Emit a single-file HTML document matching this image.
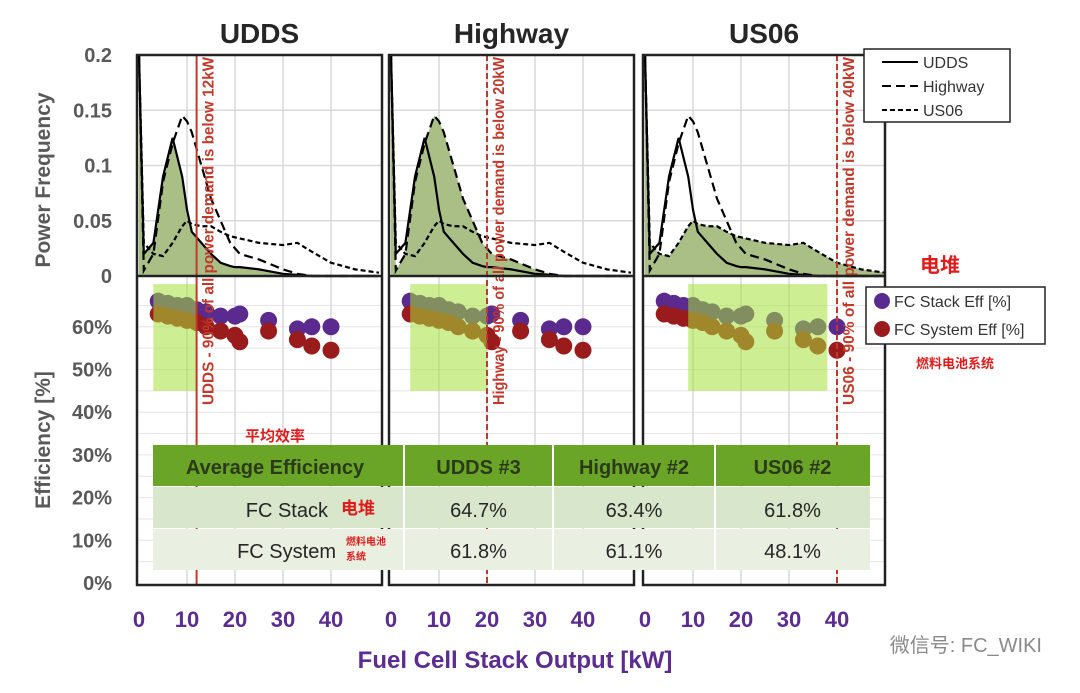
<!DOCTYPE html>
<html><head><meta charset="utf-8"><style>
html,body{margin:0;padding:0;background:#fff;}
svg{display:block;font-family:"Liberation Sans","Noto Sans CJK SC",sans-serif;}
</style></head><body>
<svg id="c" width="1080" height="693" viewBox="0 0 1080 693"></svg>
<script>
const kw = [0,1,3,5,7,9,10,11,12,13,15,17,19,20,21,25,30,33,36,40,45,50];
const freqUDDS    = [0.2,0.02,0.03,0.09,0.125,0.09,0.06,0.04,0.035,0.03,0.02,0.012,0.009,0.008,0.008,0.006,0.002,0.001,0,0,0,0];
const freqHighway = [0.2,0.005,0.02,0.085,0.12,0.145,0.14,0.13,0.115,0.1,0.07,0.05,0.03,0.025,0.02,0.015,0.006,0.002,0,0,0,0];
const freqUS06    = [0.2,0.03,0.02,0.018,0.03,0.045,0.05,0.047,0.046,0.045,0.045,0.04,0.036,0.035,0.034,0.03,0.028,0.03,0.022,0.012,0.006,0.003];
const effKw     = [4,6,8,10,12,14,17,20,21,27,33,36,40];
const stackEff  = [66,65.5,65,65,64,63.5,62.5,62.5,63,61.5,59.5,60,60];
const systemEff = [63,62.5,62,61.5,61,60,59,58,56.5,59,57,55.5,54.5];
const cycles = ['UDDS','Highway','US06'];
const limits = [12,20,40];
const hiStart = [3,4,9];
const hiEnd = [12,20,38];
const freqTicks = ['0','0.05','0.1','0.15','0.2'];
const effTicks = ['0%','10%','20%','30%','40%','50%','60%'];
const xTicks = ['0','10','20','30','40'];
const tableHead = ['Average  Efficiency','UDDS #3','Highway #2','US06 #2'];
const stackAvg = ['64.7%','63.4%','61.8%'];
const systemAvg = ['61.8%','61.1%','48.1%'];

const svg = document.getElementById('c');
const NS='http://www.w3.org/2000/svg';
function mk(tag,attrs,parent,text){const e=document.createElementNS(NS,tag);for(const k in attrs)e.setAttribute(k,attrs[k]);if(text!==undefined)e.textContent=text;(parent||svg).appendChild(e);return e;}

const panelX=[139,391,645], panelW=[243,243,240];
const topY0=276, topY1=55, botY1=585;
function xs(p,v){return panelX[p]+v*4.8;}
function fy(v){return topY0-(v/0.2)*(topY0-topY1);}
function ey(v){return 583-v*4.27;}
const series=[freqUDDS,freqHighway,freqUS06];
const dashes=['none','9,5','5,3'];

let t=mk('text',{x:50,y:180,'font-size':21,'font-weight':'bold',fill:'#595959','text-anchor':'middle',transform:'rotate(-90 50 180)'},svg,'Power Frequency');

t=mk('text',{x:50,y:440,'font-size':21,'font-weight':'bold',fill:'#595959','text-anchor':'middle',transform:'rotate(-90 50 440)'},svg,'Efficiency [%]');

freqTicks.forEach((s,i)=>{const e=mk('text',{x:112,y:fy(i*0.05)+7,'font-size':20,'font-weight':'bold',fill:'#595959','text-anchor':'end'},svg,s);});
effTicks.forEach((s,i)=>{const e=mk('text',{x:112,y:ey(i*10)+7,'font-size':20,'font-weight':'bold',fill:'#595959','text-anchor':'end'},svg,s);});
t=mk('text',{x:515,y:668,'font-size':24,'font-weight':'bold',fill:'#5b2c91','text-anchor':'middle'},svg,'Fuel Cell Stack Output [kW]');


for(let p=0;p<3;p++){
  const g=mk('g',{});
  const x0=panelX[p]-2,w=panelW[p]+2;
  mk('rect',{x:x0,y:topY1,width:w,height:botY1-topY1,fill:'#fff'},g);
  for(let v=0.05;v<0.2;v+=0.05) mk('line',{x1:x0,x2:x0+w,y1:fy(v),y2:fy(v),stroke:'#d9d9d9','stroke-width':1.5},g);
  for(let e=5;e<=65;e+=5) mk('line',{x1:x0,x2:x0+w,y1:ey(e),y2:ey(e),stroke:'#e6e6e6','stroke-width':1},g);
  for(let k=10;k<=40;k+=10) mk('line',{x1:xs(p,k),x2:xs(p,k),y1:topY1,y2:botY1,stroke:'#d9d9d9','stroke-width':1.5},g);
  let d='M'+xs(p,0)+','+fy(0);
  kw.forEach((k,i)=>{d+=' L'+xs(p,k)+','+fy(series[p][i]);});
  d+=' L'+xs(p,50)+','+fy(0)+'Z';
  const a=mk('path',{d:d,fill:'#a9bf85'},g);
  series.forEach((s,si)=>{let dd='';kw.forEach((k,i)=>{dd+=(i?' L':'M')+xs(p,k)+','+fy(s[i]);});
    const l=mk('path',{d:dd,fill:'none',stroke:'#000','stroke-width':2.2,'stroke-dasharray':dashes[si]},g);
    });
  effKw.forEach((k,i)=>{const c=mk('circle',{cx:xs(p,k),cy:ey(stackEff[i]),r:8.5,fill:'#5a2a8e'},g);});
  effKw.forEach((k,i)=>{const c=mk('circle',{cx:xs(p,k),cy:ey(systemEff[i]),r:8.5,fill:'#9a1b1b'},g);});
  const hr=mk('rect',{x:xs(p,hiStart[p]),y:ey(70),width:(hiEnd[p]-hiStart[p])*4.8,height:ey(45)-ey(70),fill:'#a6e03a',opacity:0.55},g);
  
  const lx=xs(p,limits[p]);
  const ll=mk('line',{x1:lx,x2:lx,y1:topY1,y2:botY1,stroke:'#c0392b','stroke-width':2,'stroke-dasharray':p==0?'none':'6,3'},g);
  
  const lbl=cycles[p]+' - 90% of all power demand is below '+limits[p]+'kW';
  const lt=mk('text',{x:0,y:0,'font-size':15.5,'font-weight':'bold',fill:'#c0392b',textLength:348,lengthAdjust:'spacingAndGlyphs',transform:'translate('+(lx+17)+',405) rotate(-90)'},g,lbl);
  
  mk('rect',{x:x0,y:topY1,width:w,height:botY1-topY1,fill:'none',stroke:'#222','stroke-width':2.5},g);
  mk('line',{x1:x0,x2:x0+w,y1:topY0,y2:topY0,stroke:'#222','stroke-width':2.5},g);
  const tt=mk('text',{x:x0+w/2,y:43,'font-size':28,'font-weight':'bold',fill:'#262626','text-anchor':'middle'},svg,cycles[p]);
  
  xTicks.forEach((s,i)=>{const e=mk('text',{x:xs(p,i*10),y:627,'font-size':22,'font-weight':'bold',fill:'#5b2c91','text-anchor':'middle'},svg,s);});
}

const lg=mk('g',{});
mk('rect',{x:864,y:49,width:146,height:73,fill:'#fff',stroke:'#222','stroke-width':1.5},lg);
cycles.forEach((c,i)=>{const y=62+i*24;mk('line',{x1:882,x2:918,y1:y,y2:y,stroke:'#000','stroke-width':2,'stroke-dasharray':dashes[i]},lg);mk('text',{x:923,y:y+6,'font-size':16,fill:'#333'},lg,c);});
const lg2=mk('g',{});
mk('rect',{x:866,y:287,width:179,height:57,fill:'#fff',stroke:'#222','stroke-width':1.5},lg2);
mk('circle',{cx:882,cy:301,r:8,fill:'#5a2a8e'},lg2);mk('text',{x:894,y:307,'font-size':16,fill:'#333'},lg2,'FC Stack Eff [%]');
mk('circle',{cx:882,cy:329,r:8,fill:'#9a1b1b'},lg2);mk('text',{x:894,y:335,'font-size':16,fill:'#333'},lg2,'FC System Eff [%]');
t=mk('text',{x:940,y:272,'font-size':20,'font-weight':'bold',fill:'#e01b1b','text-anchor':'middle'},svg,'电堆');
t=mk('text',{x:955,y:368,'font-size':13,'font-weight':'bold',fill:'#e01b1b','text-anchor':'middle'},svg,'燃料电池系统');

const tb=mk('g',{});
const cx=[153,404,553,715,870];
mk('rect',{x:153,y:445,width:717,height:41,fill:'#6aa527'},tb);
mk('rect',{x:153,y:487,width:717,height:41,fill:'#d8e6cb'},tb);
mk('rect',{x:153,y:529,width:717,height:41,fill:'#e9f0e2'},tb);
for(let i=1;i<4;i++)mk('line',{x1:cx[i],x2:cx[i],y1:445,y2:570,stroke:'#fff','stroke-width':2},tb);
tableHead.forEach((h,i)=>{mk('text',{x:i==0?275:(cx[i]+cx[i+1])/2,y:474,'font-size':20,'font-weight':'bold',fill:'#2a3a1a','text-anchor':'middle'},tb,h);});
mk('text',{x:328,y:517,'font-size':20,fill:'#262626','text-anchor':'end'},tb,'FC Stack');
mk('text',{x:336,y:558,'font-size':20,fill:'#262626','text-anchor':'end'},tb,'FC System');
mk('text',{x:341,y:514,'font-size':17,'font-weight':'bold',fill:'#e01b1b'},tb,'电堆');
mk('text',{x:346,y:545,'font-size':10,'font-weight':'bold',fill:'#e01b1b'},tb,'燃料电池');
mk('text',{x:346,y:560,'font-size':10,'font-weight':'bold',fill:'#e01b1b'},tb,'系统');
stackAvg.forEach((v,i)=>mk('text',{x:(cx[i+1]+cx[i+2])/2,y:517,'font-size':20,fill:'#262626','text-anchor':'middle'},tb,v));
systemAvg.forEach((v,i)=>mk('text',{x:(cx[i+1]+cx[i+2])/2,y:558,'font-size':20,fill:'#262626','text-anchor':'middle'},tb,v));
t=mk('text',{x:275,y:441,'font-size':15,'font-weight':'bold',fill:'#e01b1b','text-anchor':'middle'},svg,'平均效率');
t=mk('text',{x:1042,y:652,'font-size':20,fill:'#8a8a8a','text-anchor':'end'},svg,'微信号: FC_WIKI');
</script>
</body></html>
